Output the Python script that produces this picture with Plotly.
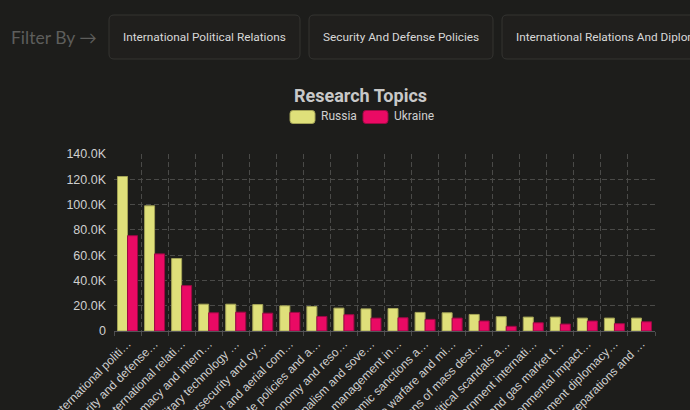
import plotly.graph_objects as go

categories = [
    "International political relations", "Security and defense policies",
    "International relations and diplomacy", "Diplomacy and international law",
    "Military technology and weapons", "Cybersecurity and cyberwarfare",
    "Naval and aerial combat", "Trade policies and agreements",
    "War economy and resources", "Nationalism and sovereignty",
    "Crisis management in conflicts", "Economic sanctions and trade",
    "Drone warfare and missiles", "Weapons of mass destruction",
    "Political scandals and corruption", "Government international relations",
    "Oil and gas market trends", "Environmental impact of war",
    "Government diplomacy efforts", "War reparations and reconstruction",
]
russia = [122200, 99000, 57300, 21200, 21200, 20900, 19900, 19400, 18100, 17500,
          17800, 14700, 14400, 13100, 11300, 11000, 11000, 10200, 10200, 10200]
ukraine = [75400, 61000, 35900, 14400, 14900, 14100, 14700, 11500, 12900, 10200,
           10500, 9200, 10200, 7900, 3700, 6500, 5500, 7900, 5800, 7300]
y_ticks = [0, 20000, 40000, 60000, 80000, 100000, 120000, 140000]
series_names = ["Russia", "Ukraine"]
series_colors = ["#dfe07a", "#ea0a64"]
series_edges = ["#a3a356", "#9c0944"]
filter_buttons = ["International Political Relations", "Security And Defense Policies",
                  "International Relations And Diplomacy"]

def short(s, n=20):
    return s[:n] + "…" if len(s) > n else s

labels = [short(c) for c in categories]
y_text = ["0" if v == 0 else f"{v/1000:.1f}K" for v in y_ticks]

W, H = 690, 410
L, R, T, B = 114, 35, 154, 79
PW, PH = W - L - R, H - T - B

def px(x):
    return (x - L) / PW

def py(y):
    return (H - B - y) / PH

def rrect(x0, y0, x1, y1, r=5):
    rx, ry = r / PW, r / PH
    X0, X1 = px(x0), px(x1)
    Y0, Y1 = py(y1), py(y0)  # bottom, top
    return (f"M{X0+rx},{Y1} L{X1-rx},{Y1} Q{X1},{Y1} {X1},{Y1-ry} "
            f"L{X1},{Y0+ry} Q{X1},{Y0} {X1-rx},{Y0} L{X0+rx},{Y0} "
            f"Q{X0},{Y0} {X0},{Y0+ry} L{X0},{Y1-ry} Q{X0},{Y1} {X0+rx},{Y1} Z")

bg = "#1d1d1b"
fig = go.Figure()
for name, vals, col, edge in zip(series_names, [russia, ukraine], series_colors, series_edges):
    fig.add_trace(go.Bar(name=name, x=labels, y=vals, showlegend=False,
                         marker=dict(color=col, line=dict(color=edge, width=1))))

shapes = []
annotations = []
btn_x = [(109, 300), (309, 493), (502, 900)]
for (x0, x1), txt in zip(btn_x, filter_buttons):
    shapes.append(dict(type="path", path=rrect(x0, 15, x1, 59), xref="paper", yref="paper",
                       fillcolor="#201f1d", line=dict(color="#343431", width=1), layer="below"))
    annotations.append(dict(text=txt, x=px(x0 + 12), y=py(37), xref="paper", yref="paper",
                            xanchor="left", yanchor="middle", showarrow=False,
                            font=dict(family="Roboto", size=11.8, color="#d8d8d8")))
annotations.append(dict(text="Filter By →", x=px(9), y=py(37), xref="paper", yref="paper",
                        xanchor="left", yanchor="middle", showarrow=False,
                        font=dict(family="Lato", size=17.5, color="#5e5e5c")))

# legend (swatch + label per series)
leg_x = [290, 363]
for lx, name, col, edge in zip(leg_x, series_names, series_colors, series_edges):
    shapes.append(dict(type="path", path=rrect(lx, 110.5, lx + 25, 123.5, r=3),
                       xref="paper", yref="paper", fillcolor=col,
                       line=dict(color=edge, width=1)))
    annotations.append(dict(text=name, x=px(lx + 29), y=py(116), xref="paper", yref="paper",
                            xanchor="left", yanchor="middle", showarrow=False,
                            font=dict(family="Roboto", size=12, color="#cfcfcf")))

fig.update_layout(
    width=W, height=H,
    margin=dict(l=L, r=R, t=T, b=B, autoexpand=False),
    paper_bgcolor=bg, plot_bgcolor=bg,
    barmode="group", bargap=0.26, bargroupgap=0,
    showlegend=False,
    title=dict(text="<b>Research Topics</b>", x=px(360.5), xref="paper", xanchor="center",
               y=1 - 96 / H, yref="container", yanchor="middle",
               font=dict(family="Roboto", size=18, color="#c8c8c8")),
    xaxis=dict(type="category", tickson="boundaries", tickangle=-45, automargin=False,
               showgrid=True, gridcolor="#4a4a48", griddash="5px,3px", gridwidth=1,
               ticks="outside", ticklen=4, tickcolor="#4a4a4a",
               showline=True, linecolor="#55555a", linewidth=1,
               tickfont=dict(family="Liberation Sans", size=12, color="#cfcfcf")),
    yaxis=dict(range=[0, 140000], tickvals=y_ticks, ticktext=y_text, automargin=False,
               showgrid=True, gridcolor="#4a4a48", griddash="5px,3px", gridwidth=1,
               zeroline=False, ticklabelstandoff=7,
               tickfont=dict(family="Liberation Sans", size=12.5, color="#cfcfcf")),
    shapes=shapes, annotations=annotations,
)
fig.write_html("out.html")
